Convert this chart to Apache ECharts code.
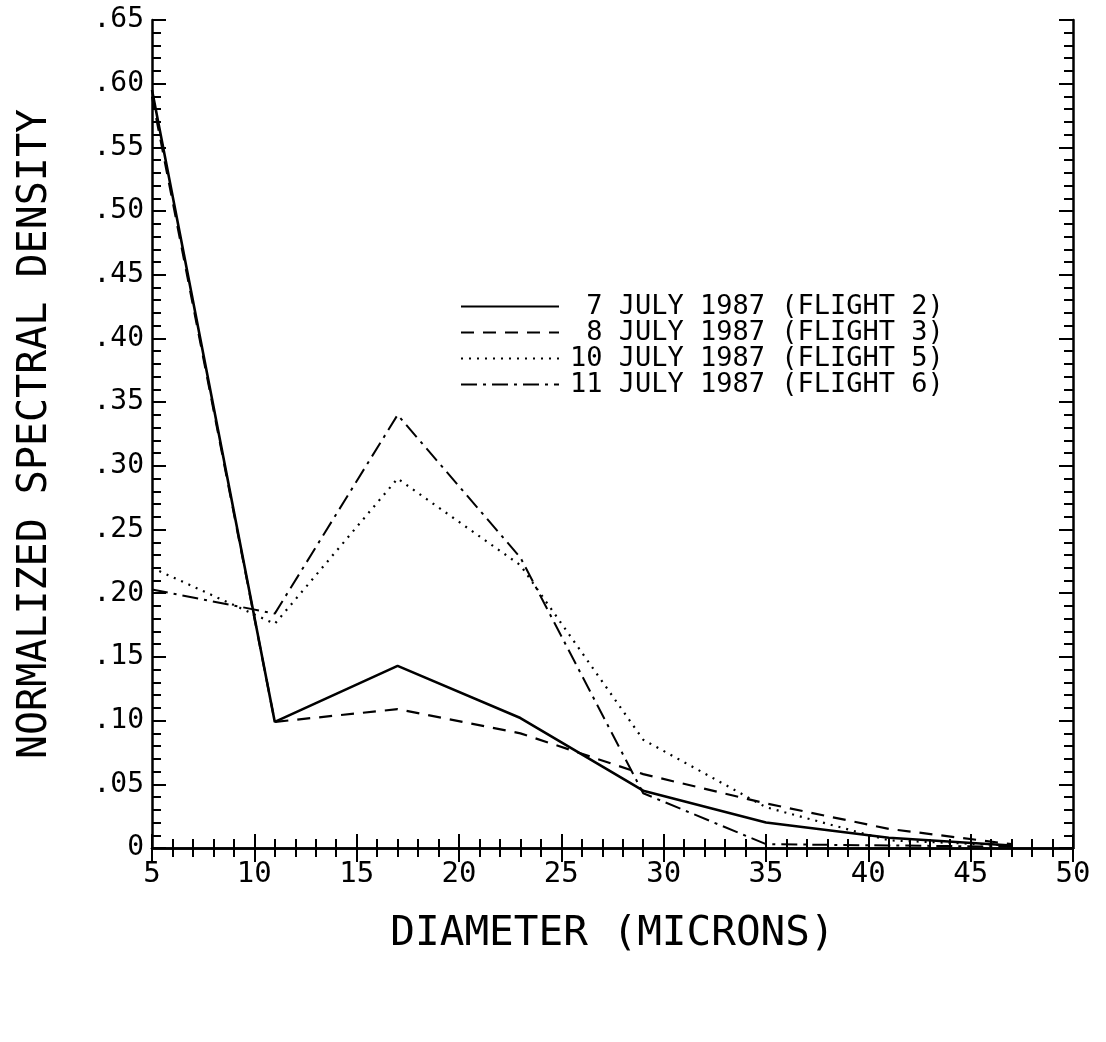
<!DOCTYPE html>
<html>
<head>
<meta charset="utf-8">
<script src="https://cdn.jsdelivr.net/npm/echarts@6/dist/echarts.min.js"></script>
<style>
html,body{margin:0;padding:0;background:#fff;}
#chart{width:1106px;height:1042px;}
</style>
</head>
<body>
<div id="chart"></div>
<script>
// ---- data ----
const diameters = [5, 11, 17, 23, 29, 35, 41, 47];
const flight2 = [0.595, 0.099, 0.143, 0.102, 0.045, 0.020, 0.008, 0.002];
const flight3 = [0.590, 0.099, 0.109, 0.090, 0.058, 0.035, 0.015, 0.003];
const flight5 = [0.220, 0.176, 0.290, 0.222, 0.085, 0.032, 0.006, 0.002];
const flight6 = [0.203, 0.184, 0.340, 0.228, 0.043, 0.003, 0.002, 0.001];
const seriesNames = ['7 JULY 1987 (FLIGHT 2)', '8 JULY 1987 (FLIGHT 3)', '10 JULY 1987 (FLIGHT 5)', '11 JULY 1987 (FLIGHT 6)'];
const xTickLabels = ['5','10','15','20','25','30','35','40','45','50'];
const yTickLabels = ['0','.05','.10','.15','.20','.25','.30','.35','.40','.45','.50','.55','.60','.65'];
const xTitle = 'DIAMETER (MICRONS)';
const yTitle = 'NORMALIZED SPECTRAL DENSITY';

const FONT = 'DejaVu Sans Mono';
const pairs = a => diameters.map((d, i) => [d, a[i]]);

const chart = echarts.init(document.getElementById('chart'), null, {renderer: 'canvas'});

const baseAxisLine = {show: true, lineStyle: {color: '#000', width: 2.5}};
function xAxisDef(pos, showLabels) {
  return {
    type: 'value', position: pos, min: 5, max: 50, interval: 5,
    axisLine: baseAxisLine,
    axisTick: {show: true, inside: true, length: 14, lineStyle: {color: '#000', width: 2}},
    minorTick: {show: true, splitNumber: 5, length: 9, lineStyle: {color: '#000', width: 2}},
    splitLine: {show: false}, minorSplitLine: {show: false},
    axisLabel: {
      show: showLabels, margin: 12, color: '#000', fontFamily: FONT, fontSize: 29,
      formatter: v => xTickLabels[Math.round((v - 5) / 5)]
    },
    name: showLabels ? xTitle : '', nameLocation: 'middle', nameGap: 66,
    nameTextStyle: {color: '#000', fontFamily: FONT, fontSize: 41}
  };
}
function yAxisDef(pos, showLabels) {
  return {
    type: 'value', position: pos, min: 0, max: 0.65, interval: 0.05,
    axisLine: baseAxisLine,
    axisTick: {show: true, inside: true, length: 14, lineStyle: {color: '#000', width: 2}},
    minorTick: {show: true, splitNumber: 5, length: 9, lineStyle: {color: '#000', width: 2}},
    splitLine: {show: false}, minorSplitLine: {show: false},
    axisLabel: {
      show: showLabels, margin: 8, color: '#000', fontFamily: FONT, fontSize: 28,
      formatter: v => yTickLabels[Math.round(v / 0.05)]
    },
    name: showLabels ? yTitle : '', nameLocation: 'middle', nameGap: 96,
    nameTextStyle: {color: '#000', fontFamily: FONT, fontSize: 40}
  };
}

const styles = [
  {type: 'solid', width: 2.6},
  {type: [13, 9], width: 2.2},
  {type: [2, 6], width: 2.2},
  {type: [16, 6, 3, 6], width: 2}
];
const datasets = [flight2, flight3, flight5, flight6];

chart.setOption({
  backgroundColor: '#fff',
  animation: false,
  grid: {left: 152, right: 33, top: 20, bottom: 194},
  xAxis: [xAxisDef('bottom', true), xAxisDef('top', false)],
  yAxis: [yAxisDef('left', true), yAxisDef('right', false)],
  legend: {
    orient: 'vertical', left: 455, top: 288, itemGap: -1,
    itemWidth: 98, itemHeight: 20,
    itemStyle: {opacity: 0},
    textStyle: {color: '#000', fontFamily: FONT, fontSize: 27, padding: [0, 0, 0, 6]},
    formatter: n => n.padStart(23, ' '),
    data: seriesNames
  },
  series: datasets.map((d, i) => ({
    name: seriesNames[i], type: 'line', xAxisIndex: 0, yAxisIndex: 0,
    data: pairs(d), symbol: 'none', showSymbol: false,
    lineStyle: Object.assign({color: '#000'}, styles[i]),
    itemStyle: {color: '#000'}
  }))
});
</script>
</body>
</html>
